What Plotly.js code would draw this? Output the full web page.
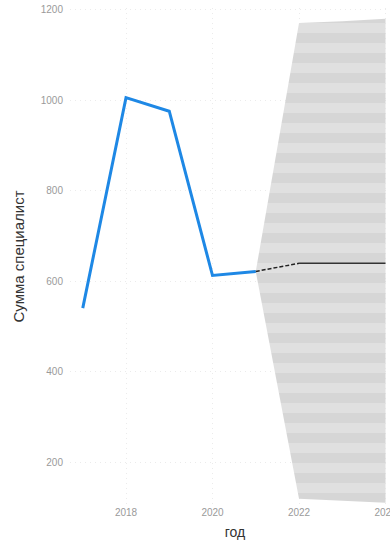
<!DOCTYPE html>
<html>
<head>
<meta charset="utf-8">
<script src="https://cdn.plot.ly/plotly-3.0.1.min.js"></script>
<style>
  html, body { margin: 0; padding: 0; overflow: hidden; background: #fff; }
  #chart { width: 400px; height: 545px; }
</style>
</head>
<body>
<div id="chart"></div>
<script>
// Фактические значения по годам
const years = [2017, 2018, 2019, 2020, 2021];
const totals = [541, 1006, 976, 613, 622];

// Прогноз и доверительный интервал
const fcYears = [2022, 2023, 2024];
const fcMean = [640, 640, 640];
const bandYears = [2021, 2022, 2023, 2024];
const bandUpper = [622, 1171, 1175, 1180];
const bandLower = [622, 120, 115, 111];

const yTicks = [200, 400, 600, 800, 1000, 1200];
const xTicks = [2018, 2020, 2022, 2024];

const bandX = bandYears.concat(bandYears.slice().reverse());
const bandY = bandUpper.concat(bandLower.slice().reverse());

const traces = [
  {
    x: bandX, y: bandY, type: 'scatter', mode: 'lines',
    fill: 'toself', fillcolor: '#dcdcdc',
    fillpattern: { shape: '-', bgcolor: '#e0e0e0', fgcolor: '#d6d6d6', size: 20, solidity: 0.5 },
    line: { width: 0 }, hoverinfo: 'skip', showlegend: false
  },
  {
    x: years, y: totals, type: 'scatter', mode: 'lines',
    line: { color: '#1e88e5', width: 3 }, showlegend: false
  },
  {
    x: [years[years.length - 1], fcYears[0]],
    y: [totals[totals.length - 1], fcMean[0]],
    type: 'scatter', mode: 'lines',
    line: { color: '#222', width: 1.5, dash: '4px,2px' }, showlegend: false
  },
  {
    x: fcYears, y: fcMean, type: 'scatter', mode: 'lines',
    line: { color: '#333', width: 1.5 }, showlegend: false
  }
];

const layout = {
  width: 400, height: 545,
  margin: { l: 70, r: 0, t: 8, b: 40 },
  paper_bgcolor: '#fff', plot_bgcolor: '#fff',
  font: { family: 'Liberation Sans, Arial, sans-serif' },
  xaxis: {
    range: [2016.705, 2024.335],
    tickvals: xTicks, ticktext: xTicks.map(String),
    showgrid: true, gridcolor: '#ebebeb', griddash: '1px,4px', gridwidth: 1,
    zeroline: false, showline: false, ticks: '',
    tickfont: { size: 10, color: '#9a9a9a' },
    title: { text: 'год', font: { size: 14, color: '#333' }, standoff: 10 }
  },
  yaxis: {
    range: [106, 1204],
    tickvals: yTicks, ticktext: yTicks.map(String),
    showgrid: true, gridcolor: '#ebebeb', griddash: '1px,4px', gridwidth: 1,
    zeroline: false, showline: false, ticks: '',
    ticklabelstandoff: 6,
    tickfont: { size: 10, color: '#9a9a9a' },
    title: { text: 'Сумма специалист', font: { size: 15, color: '#333' }, standoff: 12 }
  }
};

Plotly.newPlot('chart', traces, layout, { displayModeBar: false, staticPlot: true });
</script>
</body>
</html>
